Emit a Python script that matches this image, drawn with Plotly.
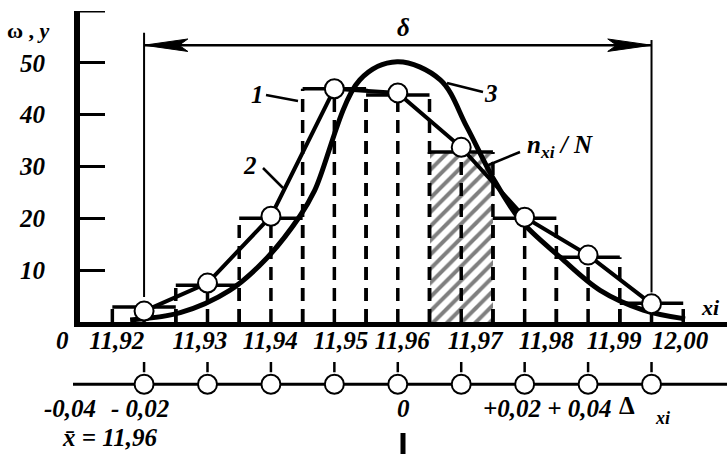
import plotly.graph_objects as go

# ---------------- data ----------------
x_centers = [11.92, 11.93, 11.94, 11.95, 11.96, 11.97, 11.98, 11.99, 12.00]
bin_width = 0.01
bar_heights = [2.9, 7.1, 20.0, 45.0, 43.8, 32.8, 20.0, 12.5, 3.6]
hatched_bar = [False, False, False, False, False, True, False, False, False]
polygon_values = [2.1, 7.5, 20.4, 45.0, 44.2, 33.7, 20.2, 12.9, 3.5]

bell_x = [11.9178, 11.9257, 11.9335, 11.9391, 11.9446, 11.9469, 11.9540, 11.9599,
          11.9667, 11.9709, 11.9750, 11.9793, 11.9856, 11.9919, 11.9987, 12.0053]
bell_y = [0.4, 1.8, 6.1, 12.0, 20.5, 25.4, 46.7, 50.2,
          46.7, 37.6, 27.8, 19.7, 12.5, 6.1, 2.3, 0.6]

y_tick_vals = [10, 20, 30, 40, 50]
y_tick_text = ["10", "20", "30", "40", "50"]
y_top = 60
x_tick_text = ["11,92", "11,93", "11,94", "11,95", "11,96", "11,97", "11,98", "11,99", "12,00"]
x_tick_pos = [11.9157, 11.9288, 11.9399, 11.9510, 11.9607, 11.9722, 11.9834, 11.9941, 12.0045]

delta_y = 53.4
delta_left_span = [55.8, 4.8]
delta_right_span = [54.4, 5.7]

# ---------------- layout helpers ----------------
W, H = 727, 454
ML, MR, MT, MB = 80, 0, 11, 0
FONT = "Liberation Serif"
FS = 25


def P(px, py):
    return (px - ML) / (W - ML - MR), (H - MB - py) / (H - MT - MB)


def label(px, py, text, size=FS, italic=True, bold=True):
    x, y = P(px, py)
    return dict(x=x, y=y, xref="paper", yref="paper", text=text, showarrow=False,
                xanchor="center", yanchor="middle",
                font=dict(family=FONT, size=size, color="black",
                          weight="bold" if bold else "normal",
                          style="italic" if italic else "normal"))


def seg(p0, p1, width=2):
    x0, y0 = P(*p0)
    x1, y1 = P(*p1)
    return dict(type="line", xref="paper", yref="paper", x0=x0, y0=y0, x1=x1, y1=y1,
                line=dict(color="black", width=width))


fig = go.Figure()

# histogram fill (white, one hatched)
fig.add_trace(go.Bar(
    x=x_centers, y=bar_heights, width=bin_width,
    marker=dict(color="white", line=dict(width=0),
                pattern=dict(shape=["/" if h else "" for h in hatched_bar],
                             fgcolor="black", bgcolor="white", size=10, solidity=0.4)),
    hoverinfo="skip"))

# histogram dashed sides and drops from circles
vx, vy = [], []
for c, h in zip(x_centers, bar_heights):
    for e in (c - bin_width / 2, c + bin_width / 2):
        vx += [e, e, None]
        vy += [0, h, None]
for c, v in zip(x_centers, polygon_values):
    vx += [c, c, None]
    vy += [0, v, None]
fig.add_trace(go.Scatter(x=vx, y=vy, mode="lines",
                         line=dict(color="black", width=3.5, dash="13px,8px"),
                         hoverinfo="skip"))

# histogram tops (solid)
tx, ty = [], []
for c, h in zip(x_centers, bar_heights):
    tx += [c - bin_width / 2, c + bin_width / 2, None]
    ty += [h, h, None]
fig.add_trace(go.Scatter(x=tx, y=ty, mode="lines",
                         line=dict(color="black", width=3.5), hoverinfo="skip"))

# normal curve (3)
fig.add_trace(go.Scatter(x=bell_x, y=bell_y, mode="lines",
                         line=dict(color="black", width=5, shape="spline", smoothing=1.0),
                         hoverinfo="skip"))

# frequency polygon (2) with circles
fig.add_trace(go.Scatter(x=x_centers, y=polygon_values, mode="lines+markers",
                         line=dict(color="black", width=4),
                         marker=dict(size=19, color="white", line=dict(color="black", width=2)),
                         cliponaxis=False, hoverinfo="skip"))

# lower deviation axis: circles and small ticks
lx, ly = [], []
for c in x_centers:
    lx += [c, c, None]
    ly += [1.2, 2.2, None]
fig.add_trace(go.Scatter(x=lx, y=ly, mode="lines", xaxis="x", yaxis="y2",
                         line=dict(color="black", width=2.5), hoverinfo="skip"))
fig.add_trace(go.Scatter(x=x_centers, y=[0] * len(x_centers), mode="markers",
                         xaxis="x", yaxis="y2",
                         marker=dict(size=19, color="white", line=dict(color="black", width=2)),
                         cliponaxis=False, hoverinfo="skip"))

shapes = []
# unlabeled top tick of the y axis
shapes.append(dict(type="line", xref="paper", yref="y", x0=0, x1=25 / (W - ML - MR),
                   y0=y_top, y1=y_top, line=dict(color="black", width=3)))
# lower axis line
shapes.append(dict(type="line", xref="paper", yref="y2", x0=P(73, 0)[0], x1=1.0, y0=0, y1=0,
                   line=dict(color="black", width=3), layer="below"))
# delta verticals
shapes.append(dict(type="line", xref="x", yref="y", x0=x_centers[0], x1=x_centers[0],
                   y0=delta_left_span[0], y1=delta_left_span[1], line=dict(color="black", width=2)))
shapes.append(dict(type="line", xref="x", yref="y", x0=x_centers[-1], x1=x_centers[-1],
                   y0=delta_right_span[0], y1=delta_right_span[1], line=dict(color="black", width=2)))
# delta dimension line with barbed arrowheads
shapes.append(dict(type="line", xref="x", yref="y", x0=x_centers[0], x1=x_centers[-1],
                   y0=delta_y, y1=delta_y, line=dict(color="black", width=2.5)))
head_len, head_half = 0.0069, 1.2
for tip, sgn in ((x_centers[0], 1), (x_centers[-1], -1)):
    b = tip + sgn * head_len
    n = tip + sgn * head_len * 0.8
    path = (f"M {tip} {delta_y} L {b} {delta_y + head_half} L {n} {delta_y} "
            f"L {b} {delta_y - head_half} Z")
    shapes.append(dict(type="path", xref="x", yref="y", path=path,
                       fillcolor="black", line=dict(color="black", width=1)))
# leaders
shapes.append(seg((266, 95), (298, 101), 2.5))      # 1
shapes.append(seg((263, 168), (283, 188), 2.5))     # 2
shapes.append(seg((447, 83), (483, 92), 2.5))       # 3
shapes.append(seg((520, 152), (486, 166), 2.5))     # n/N
# thick mark under 0
shapes.append(seg((403, 433), (403, 454), 5))

annotations = [
    label(28, 30, "ω , <i>y</i>", size=22, italic=False),
    label(403, 28, "δ"),
    label(257, 95, "1"),
    label(250, 165, "2"),
    label(491, 93, "3"),
    label(560, 146, "n<sub>xi</sub> / N"),
    label(710, 307, "xi", size=22),
    label(62, 340, "0"),
    label(70, 408, "-0,04"),
    label(140, 408, "- 0,02"),
    label(110, 437, "x̄ = 11,96"),
    label(403, 408, "0"),
    label(547, 408, "+0,02 + 0,04"),
    label(627, 405, "Δ", italic=False),
    label(662, 418, "xi", size=18),
]

tickfont = dict(family=FONT, size=FS, color="black", weight="bold", style="italic")

fig.update_layout(
    width=W, height=H,
    margin=dict(l=ML, r=MR, t=MT, b=MB),
    paper_bgcolor="white", plot_bgcolor="white",
    showlegend=False, bargap=0,
    xaxis=dict(range=[11.9099, 12.0119], anchor="y", showline=True, linewidth=5,
               linecolor="black", ticks="", tickvals=x_tick_pos, ticktext=x_tick_text,
               tickfont=tickfont, showgrid=False, zeroline=False, ticklabelstandoff=-8,
               automargin=False),
    yaxis=dict(domain=[0.298, 1], range=[0, y_top], showline=True, linewidth=6,
               linecolor="black", ticks="inside", ticklen=25, tickwidth=3, tickcolor="black",
               tickvals=y_tick_vals, ticktext=y_tick_text, tickfont=tickfont,
               ticklabelstandoff=24, showgrid=False, zeroline=False, automargin=False),
    yaxis2=dict(domain=[0, 0.27], range=[-6.9, 4.94], visible=False, anchor="x",
                automargin=False),
    shapes=shapes,
    annotations=annotations,
)

fig.write_html("out.html", config={"displayModeBar": False},
               post_script="document.body.style.margin='0';document.body.style.overflow='hidden';")
